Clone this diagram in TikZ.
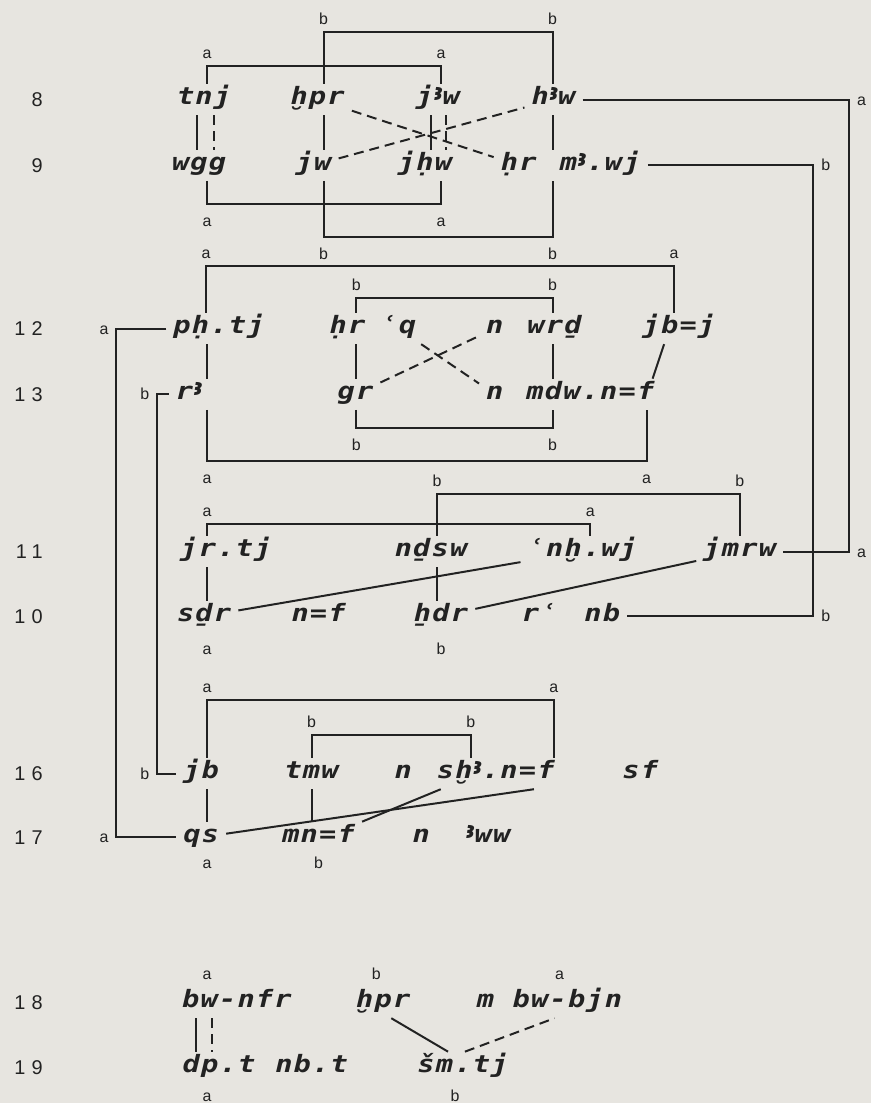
\documentclass[tikz,border=0pt]{standalone}
\usepackage{fontspec}
\usepackage{graphicx}
\usepackage{xcolor}
\usetikzlibrary{positioning, calc}
\definecolor{paper}{HTML}{E7E5E0}
\definecolor{ink}{HTML}{222222}
\newfontfamily\tlfont{DejaVu Sans Mono}[LetterSpace=5, FakeStretch=1.2]
\newfontfamily\labfont{Liberation Sans}
\newfontfamily\numfont{Liberation Sans}[LetterSpace=30]
\newfontfamily\alfontA{DejaVu Sans}
\newfontfamily\alfontB{Noto Sans}
% egyptological aleph, set a little high as on the typewriter
\newcommand\alef{\raisebox{.3ex}{\alfontA\iffontchar\font"A723 \char"A723\relax\else\alfontB\iffontchar\font"A723 \char"A723\relax\else\fontsize{14}{14}\selectfont 3\fi\fi}}

\begin{document}
\begin{tikzpicture}[x=1pt, y=-1pt,
    word/.style={font=\tlfont\bfseries\itshape\fontsize{24}{24}\selectfont, text=ink, inner xsep=7pt, inner ysep=0pt, text height=15pt, text depth=5pt, minimum height=31pt},
    num/.style={font=\numfont\fontsize{20}{20}\selectfont, text=ink, anchor=east, inner sep=0pt},
    lab/.style={font=\labfont\fontsize{16}{16}\selectfont, text=ink, inner sep=7pt, text height=11pt, text depth=0pt},
    link/.style={draw=ink, line width=2pt},
    dlink/.style={link, dash pattern=on 10pt off 6pt},
]

\fill[paper] (0,0) rectangle (875,1108);

% columns of the long brackets
\coordinate (colA) at (117,0);
\coordinate (colB) at (158,0);
\coordinate (colC) at (817,0);
\coordinate (colD) at (853,0);

% ── Lines 8 and 9 ──
\node[num] (l8) at (43,100) {8};
\node[num] (l9) at (43,166) {9};

\node[word] (tnj) at (205,100) {tnj};
\node[word] (wgg) at (200,166) {wgg};
\node[word] (hpr) at (319,100) {ḫpr};
\node[word] (jw) at (315,166) {jw};
\node[word] (jAw) at (440,100) {j\alef w};
\node[word] (jhw) at (427,166) {jḥw};
\node[word] (hAw) at (556,100) {h\alef w};
\node[word] (hr) at (521,166) {ḥr};
\node[word] (mAwj) at (603,166) {m\alef.wj};

\draw[link] ($(tnj.north)+(3,0)$) -- ++(0,-18) node[lab, above] {a} -| node[lab, above, pos=.5] {a} ($(jAw.north)+(3,0)$);
\draw[link] ($(hpr.north)+(6,0)$) -- ++(0,-52) node[lab, above] {b} -| node[lab, above, pos=.5] {b} ($(hAw.north)+(-1,0)$);
\draw[link] ($(wgg.south -| tnj)+(3,0)$) -- ++(0,23) node[lab, below=4pt] {a} -| node[lab, below=4pt, pos=.5] {a} ($(jhw.south -| jAw)+(3,0)$);
\draw[link] ($(jw.south -| hpr)+(6,0)$) -- ++(0,56) node[lab, below=4pt] {b} -| node[lab, below=4pt, pos=.5] {b} ($(hr.south -| hAw)+(-1,0)$);

\draw[link] ($(tnj.south)+(-7,0)$) -- ($(wgg.north -| tnj)+(-7,0)$);
\draw[dlink] ($(tnj.south)+(10,0)$) -- ($(wgg.north -| tnj)+(10,0)$);
\draw[link] ($(hpr.south)+(6,0)$) -- ($(jw.north -| hpr)+(6,0)$);
\draw[link] ($(jAw.south)+(-7,0)$) -- ($(jhw.north -| jAw)+(-7,0)$);
\draw[dlink] ($(jAw.south)+(8,0)$) -- ($(jhw.north -| jAw)+(8,0)$);
\draw[link] ($(hAw.south)+(-1,0)$) -- ($(hr.north -| hAw)+(-1,0)$);
\draw[dlink] (hpr) -- (hr);
\draw[dlink] (jw) -- (hAw);

% ── Lines 12 and 13 ──
\node[num] (l12) at (43,330) {12};
\node[num] (l13) at (43,396) {13};

\node[word] (pht) at (220,330) {pḥ.tj};
\node[word] (rA) at (190,396) {r\alef};
\node[word] (hrb) at (349,330) {ḥr};
\node[word] (aq) at (400,330) {ʿq};
\node[word] (gr) at (357,396) {gr};
\node[word] (nwrd) at (497,330) {n};
\node[word] (wrd) at (557,330) {wrḏ};
\node[word] (jbj) at (682,330) {jb=j};
\node[word] (nmdw) at (497,396) {n};
\node[word] (mdw) at (593,396) {mdw.n=f};

\draw[link] ($(pht.north)+(-13,0)$) -- ++(0,-47) node[lab, above] {a} -| node[lab, above, pos=.5] {a} ($(jbj.north)+(-5,0)$);
\draw[link] ($(hrb.north -| gr)+(1,0)$) -- ++(0,-15) node[lab, above] {b} -| node[lab, above, pos=.5] {b} ($(wrd.north)+(-2,0)$);
\draw[link] ($(rA.south -| pht)+(-12,0)$) -- ++(0,51) node[lab, below=4pt] {a} -| node[lab, below=4pt, pos=.5] {a} ($(mdw.south east)+(-15,0)$);
\draw[link] ($(gr.south)+(1,0)$) -- ++(0,18) node[lab, below=4pt] {b} -| node[lab, below=4pt, pos=.5] {b} ($(mdw.south -| wrd)+(-2,0)$);

\draw[link] ($(pht.south)+(-12,0)$) -- ($(rA.north -| pht)+(-12,0)$);
\draw[link] ($(hrb.south -| gr)+(1,0)$) -- ($(gr.north)+(1,0)$);
\draw[link] ($(wrd.south)+(-2,0)$) -- ($(mdw.north -| wrd)+(-2,0)$);
\draw[link] ($(jbj.south)+(-15,0)$) -- ($(mdw.north east)+(-9,0)$);
\draw[dlink] (aq) -- (nmdw);
\draw[dlink] (gr) -- (nwrd);

% ── Lines 11 and 10 ──
\node[num] (l11) at (43,554) {11};
\node[num] (l10) at (43,619) {10};

\node[word] (jrtj) at (227,554) {jr.tj};
\node[word] (sdr) at (205,619) {sḏr};
\node[word] (nf) at (320,619) {n=f};
\node[word] (ndsw) at (433,554) {nḏsw};
\node[word] (hdr) at (443,619) {ẖdr};
\node[word] (anhwj) at (585,554) {ʿnḫ.wj};
\node[word] (ra) at (542,619) {rʿ};
\node[word] (nb) at (605,619) {nb};
\node[word] (jmrw) at (743,554) {jmrw};

\draw[link] ($(jrtj.north)+(-19,0)$) -- ++(0,-12) node[lab, above] {a} -| node[lab, above, pos=.5] {a} ($(anhwj.north)+(8,0)$);
\draw[link] ($(ndsw.north)+(6,0)$) -- ++(0,-42) node[lab, above] {b} -| node[lab, above, pos=.5] {b} (jmrw.north);
\draw[link] ($(jrtj.south)+(-19,0)$) -- ($(sdr.north -| jrtj)+(-19,0)$);
\draw[link] ($(ndsw.south)+(6,0)$) -- ($(hdr.north -| ndsw)+(6,0)$);
\draw[link] (sdr) -- (anhwj);
\draw[link] (hdr) -- (jmrw);

\node[lab, below=4pt of sdr, xshift=3pt] (la10) {a};
\node[lab, below=4pt of hdr] (lb10) {b};

% ── Lines 16 and 17 ──
\node[num] (l16) at (43,777) {16};
\node[num] (l17) at (43,841) {17};

\node[word] (jb) at (202,777) {jb};
\node[word] (qs) at (202,841) {qs};
\node[word] (tmw) at (313,777) {tmw};
\node[word] (mnf) at (320,841) {mn=f};
\node[word] (nsh) at (405,777) {n};
\node[word] (shAnf) at (498,777) {sḫ\alef.n=f};
\node[word] (sf) at (643,777) {sf};
\node[word] (nAww) at (423,841) {n};
\node[word] (Aww) at (490,841) {\alef ww};

\draw[link] ($(jb.north)+(6,0)$) -- ++(0,-58) node[lab, above] {a} -| node[lab, above, pos=.5] {a} ($(shAnf.north east)+(-8,0)$);
\draw[link] (tmw.north) -- ++(0,-23) node[lab, above] {b} -| node[lab, above, pos=.5] {b} ($(shAnf.north)+(-25,0)$);
\draw[link] ($(jb.south)+(6,0)$) -- ($(qs.north)+(6,0)$);
\draw[link] (tmw.south) -- (mnf.north -| tmw);
\draw[link] (qs) -- ($(shAnf.south east)+(-28,0)$);
\draw[link] (mnf.north east) -- ($(shAnf.south west)+(11,0)$);

\node[lab, below=-3pt of qs, xshift=6pt] (la17) {a};
\node[lab, below=-3pt of mnf] (lb17) {b};

% ── Long brackets ──
\draw[link] (hAw.east) -- (hAw.east -| colD) node[lab, right] {a} |- node[lab, right, pos=.5] {a} (jmrw.east);
\draw[link] (mAwj.east) -- (mAwj.east -| colC) node[lab, right] {b} |- node[lab, right, pos=.5] {b} (nb.east);
\draw[link] (pht.west) -- (pht.west -| colA) node[lab, left] {a} |- node[lab, left, pos=.5] {a} (qs.west);
\draw[link] (rA.west) -- (rA.west -| colB) node[lab, left] {b} |- node[lab, left, pos=.5] {b} (jb.west);

% ── Lines 18 and 19 ──
\node[num] (l18) at (43,1007) {18};
\node[num] (l19) at (43,1072) {19};

\node[word] (bwnfr) at (238,1007) {bw-nfr};
\node[word] (hprb) at (385,1007) {ḫpr};
\node[word] (mbwbjn) at (552,1007) {m bw-bjn};
\node[word] (dpt) at (220,1072) {dp.t};
\node[word] (nbt) at (313,1072) {nb.t};
\node[word] (smtj) at (465,1072) {šm.tj};

\node[lab, above=0pt of bwnfr, xshift=-30pt] (la18) {a};
\node[lab, above=0pt of hprb, xshift=-7pt] (lb18) {b};
\node[lab, above=0pt of mbwbjn, xshift=10pt] (lc18) {a};
\node[lab, below=0pt of dpt, xshift=-12pt] (la19) {a};
\node[lab, below=0pt of smtj, xshift=-8pt] (lb19) {b};

\draw[link] ($(bwnfr.south -| dpt)+(-23,0)$) -- ($(dpt.north)+(-23,0)$);
\draw[dlink] ($(bwnfr.south -| dpt)+(-7,0)$) -- ($(dpt.north)+(-7,0)$);
\draw[link] ($(hprb.south)+(8,0)$) -- ($(smtj.north)+(-15,0)$);
\draw[dlink] ($(smtj.north)+(2,0)$) -- ($(mbwbjn.south)+(5,0)$);

\end{tikzpicture}
\end{document}
